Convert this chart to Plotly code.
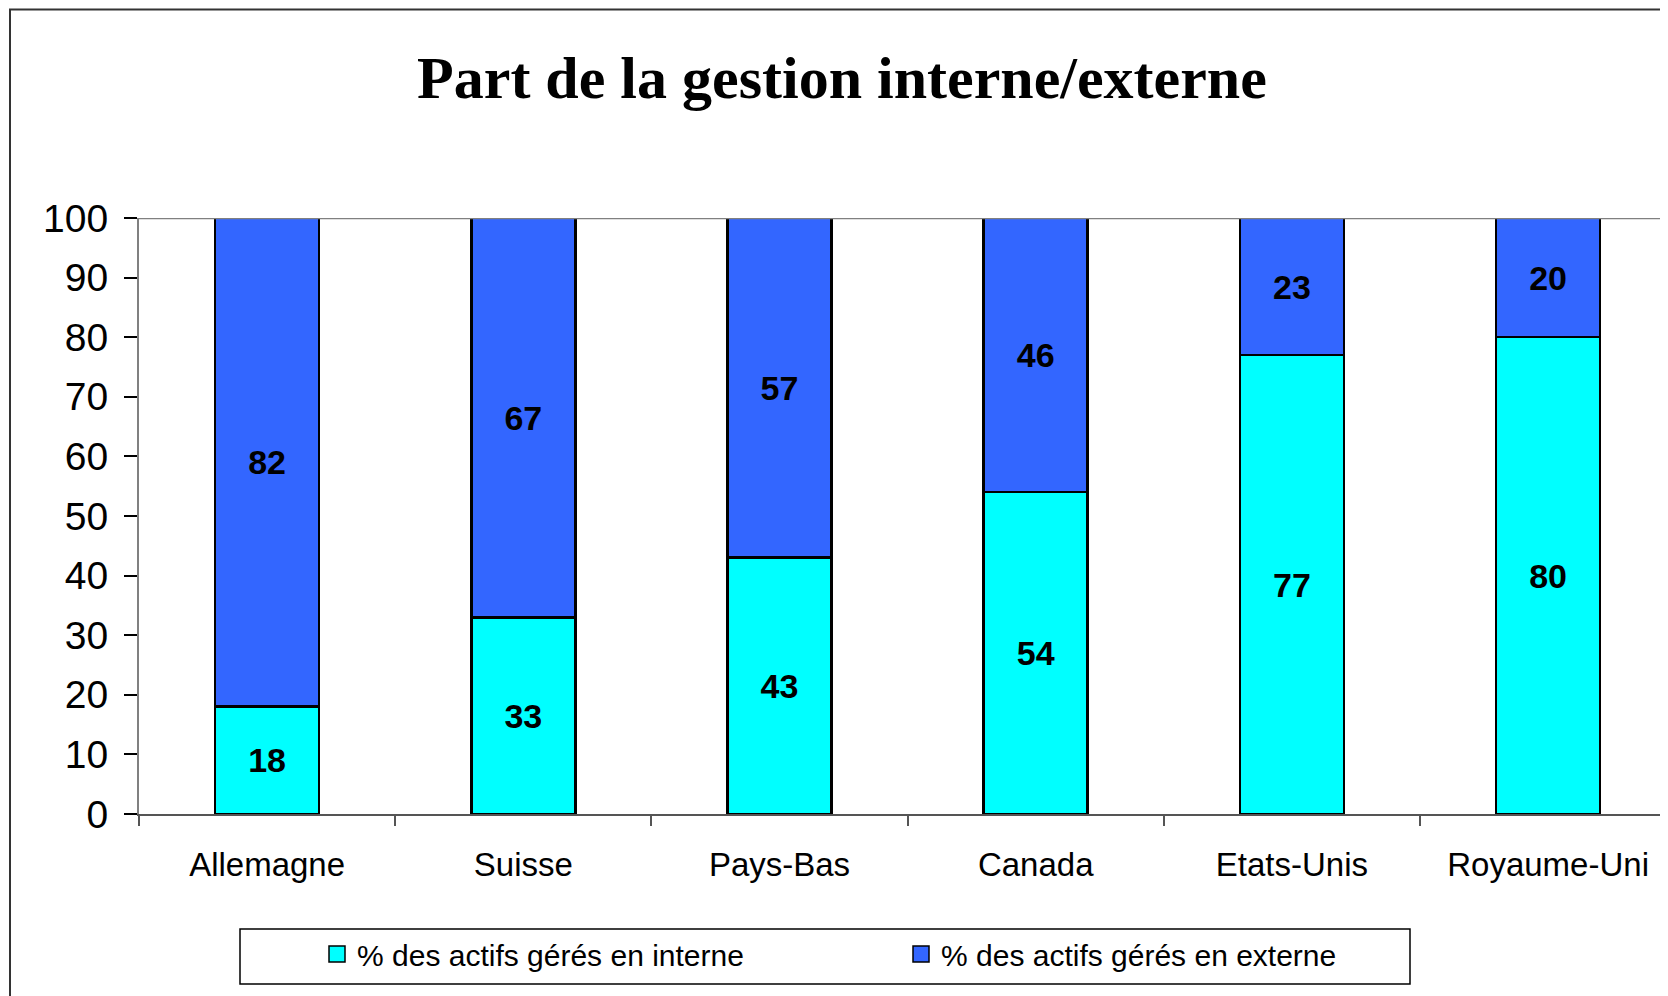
import plotly.graph_objects as go

# Data
countries = ['Allemagne', 'Suisse', 'Pays-Bas', 'Canada', 'Etats-Unis', 'Royaume-Uni']
interne = [18, 33, 43, 54, 77, 80]
externe = [82, 67, 57, 46, 23, 20]
y_ticks = list(range(0, 101, 10))

SERIES_INT = '% des actifs gérés en interne'
SERIES_EXT = '% des actifs gérés en externe'
CYAN = '#00FFFF'
BLUE = '#3366FF'

# the page body has an 8px margin, so the figure starts at (8, 8) on screen
OFF = 8
W, H = 1668 - OFF, 996 - OFF
L, T = 139 - OFF, 218 - OFF
R, B = 0, H - (814 - OFF)
PW, PH = W - L - R, H - T - B


def px_x(x):
    # screen x -> paper x
    return (x - OFF - L) / PW


def px_y(y):
    # screen y -> paper y
    return (H - B - (y - OFF)) / PH


fig = go.Figure()

for name, vals, color in [(SERIES_INT, interne, CYAN), (SERIES_EXT, externe, BLUE)]:
    fig.add_trace(go.Bar(
        x=countries,
        y=vals,
        name=name,
        marker=dict(color=color, line=dict(color='black', width=2.5)),
        text=vals,
        textposition='inside',
        insidetextanchor='middle',
        textfont=dict(family='Liberation Sans, Arial', size=34, color='black', weight='bold'),
        constraintext='none',
        showlegend=False,
        hoverinfo='x+y+name',
    ))

# legend entries with square swatches
for name, color in [(SERIES_INT, CYAN), (SERIES_EXT, BLUE)]:
    fig.add_trace(go.Scatter(
        x=[None], y=[None], mode='markers', name=name,
        marker=dict(symbol='square', size=17, color=color, line=dict(color='black', width=1.5)),
    ))

# category span in pixels -> visible range (last category is cut at the right edge)
cat_w = 256.2
x_hi = -0.5 + PW / cat_w

fig.update_layout(
    width=W, height=H,
    margin=dict(l=L, r=R, t=T, b=B),
    paper_bgcolor='white',
    plot_bgcolor='white',
    barmode='stack',
    bargap=0.594,
    title=dict(
        text='<b>Part de la gestion interne/externe</b>',
        font=dict(family='Liberation Serif, Times New Roman', size=60, color='black'),
        x=(842 - OFF) / W, xanchor='center',
        y=1 - (77 - OFF) / H, yanchor='middle',
        xref='container', yref='container',
    ),
    xaxis=dict(
        range=[-0.5, x_hi],
        tickson='boundaries',
        ticks='outside', ticklen=10, tickcolor='#555555', tickwidth=1.5,
        showline=True, linecolor='#555555', linewidth=2,
        showgrid=False,
        tickfont=dict(family='Liberation Sans, Arial', size=33, color='black'),
        ticklabelstandoff=20,
    ),
    yaxis=dict(
        range=[0, 100],
        tickvals=y_ticks,
        ticks='outside', ticklen=13, tickcolor='black', tickwidth=1.5,
        showline=True, linecolor='#808080', linewidth=2,
        showgrid=False, zeroline=False,
        tickfont=dict(family='Liberation Sans, Arial', size=39, color='black'),
        ticklabelstandoff=8,
    ),
    legend=dict(
        orientation='h',
        traceorder='normal',
        x=px_x(317), xanchor='left',
        y=px_y(954), yanchor='middle',
        font=dict(family='Liberation Sans, Arial', size=30, color='black'),
        entrywidth=539, entrywidthmode='pixels',
        bgcolor='rgba(0,0,0,0)',
        borderwidth=0,
    ),
    shapes=[
        # gray line at 100
        dict(type='line', xref='paper', yref='y', x0=0, x1=1, y0=100, y1=100,
             line=dict(color='#808080', width=2.5)),
        # legend box
        dict(type='rect', xref='paper', yref='paper',
             x0=px_x(240), x1=px_x(1410), y0=px_y(929), y1=px_y(984),
             line=dict(color='black', width=1.5), layer='below'),
        # outer chart frame (right and bottom edges fall outside the picture)
        dict(type='rect', xref='paper', yref='paper',
             x0=px_x(10), x1=px_x(1700), y0=px_y(9.5), y1=px_y(1030),
             line=dict(color='#333333', width=2), layer='below'),
    ],
)

fig.write_html('out.html')
